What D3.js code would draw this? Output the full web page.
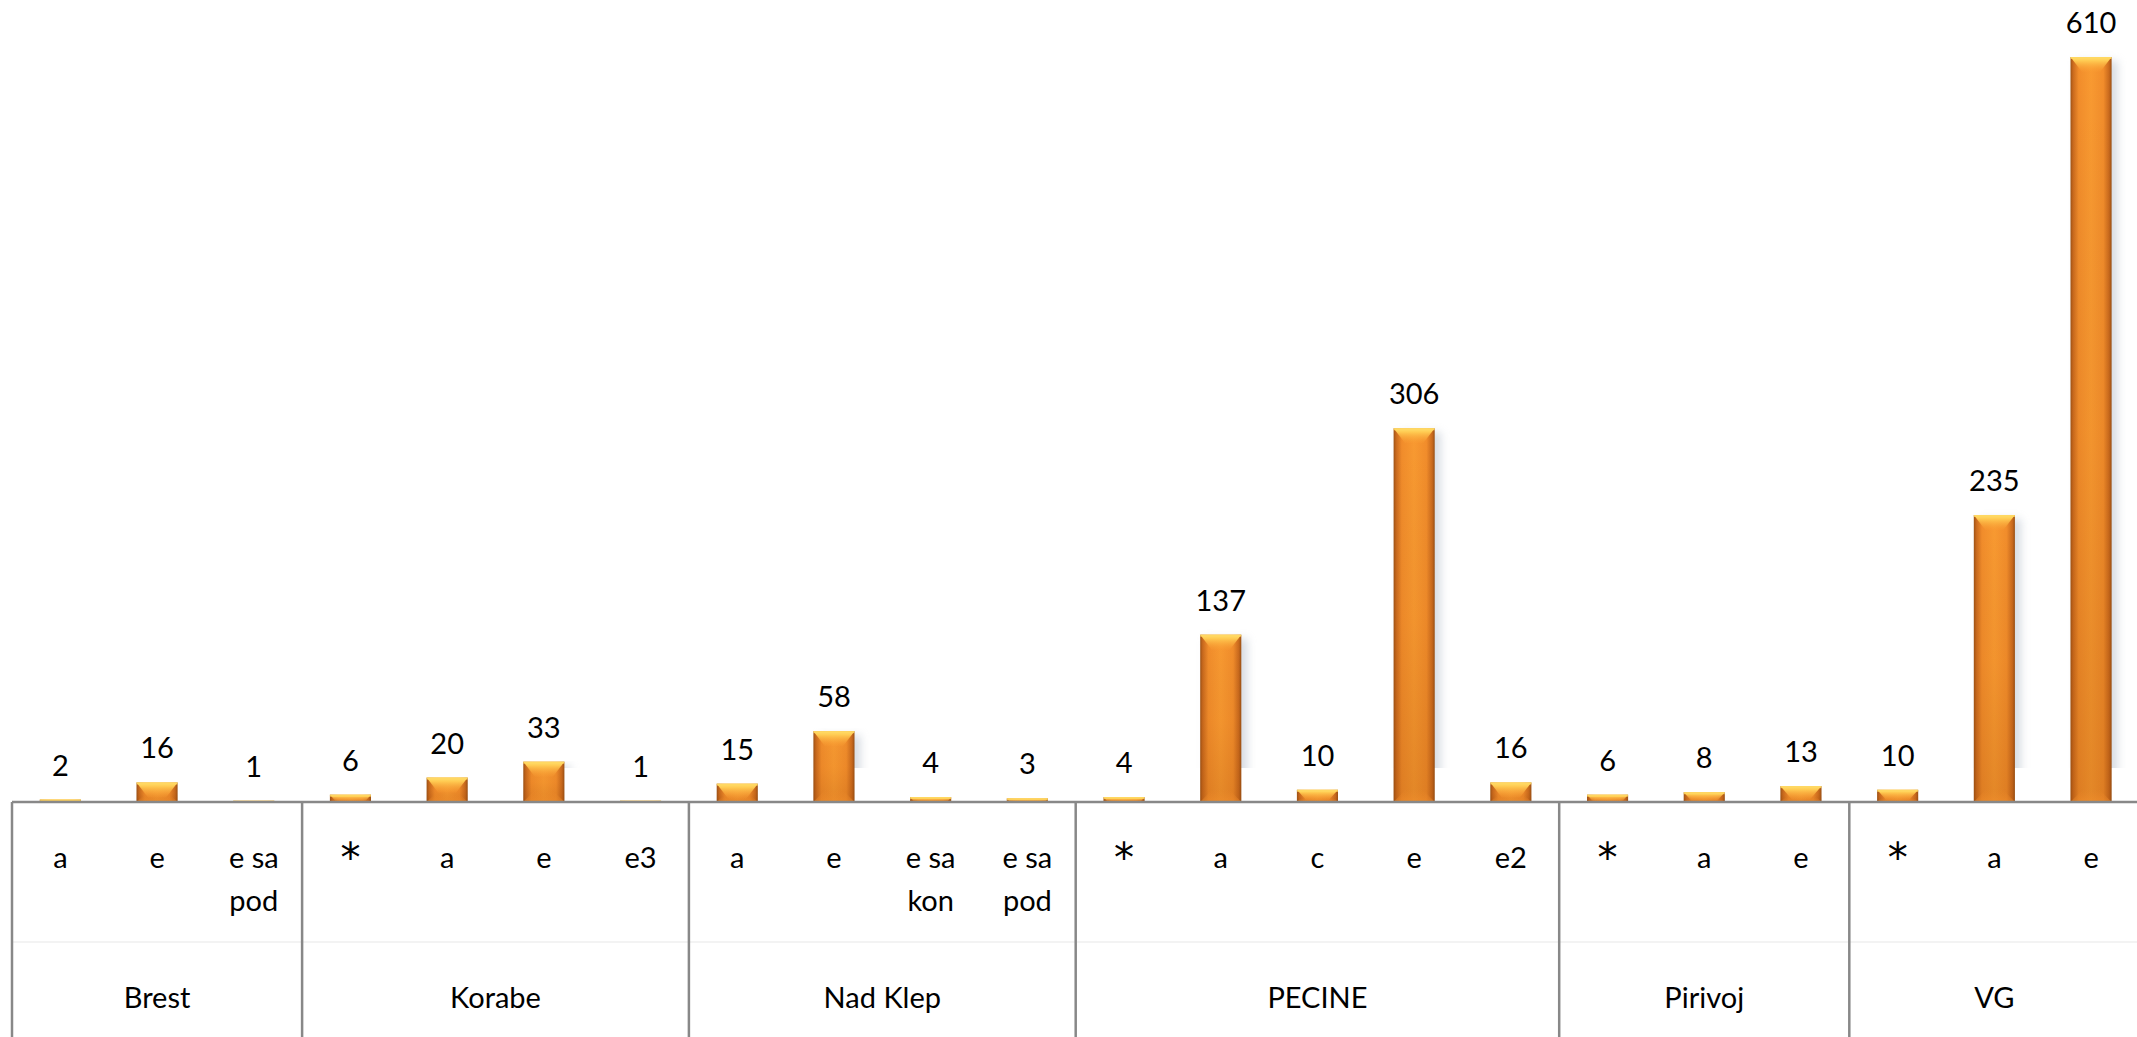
<!DOCTYPE html>
<html>
<head>
<meta charset="utf-8">
<script src="https://cdn.jsdelivr.net/npm/d3@7"></script>
<style>
  html, body { margin: 0; padding: 0; background: #fff; overflow: hidden; }
  svg { display: block; }
  text { font-family: Lato, "Open Sans", sans-serif; fill: #000; }
</style>
</head>
<body>
<svg id="chart" width="2137" height="1037"></svg>
<script>
// ---- data ----
const groups = ["Brest", "Korabe", "Nad Klep", "PECINE", "Pirivoj", "VG"];
const groupSizes = [3, 4, 4, 5, 3, 3];
const subcategories = ["a", "e", "e sa pod", "*", "a", "e", "e3", "a", "e", "e sa kon", "e sa pod",
                       "*", "a", "c", "e", "e2", "*", "a", "e", "*", "a", "e"];
const values = [2, 16, 1, 6, 20, 33, 1, 15, 58, 4, 3, 4, 137, 10, 306, 16, 6, 8, 13, 10, 235, 610];

// ---- layout ----
const W = 2137, H = 1037;
const left = 12, step = 96.7;
const right = left + step * values.length;
const axisY = 802, topY = 57;
const fontSize = 29;

const svg = d3.select("#chart");
const ids = values.map((v, i) => i);

const x = d3.scaleBand().domain(ids).range([left, right]).paddingInner(0.575).paddingOuter(0.2875);
const y = d3.scaleLinear().domain([0, d3.max(values)]).range([axisY, topY]);

// ---- defs ----
const defs = svg.append("defs");
const gH = defs.append("linearGradient").attr("id", "barH").attr("x1", 0).attr("x2", 1).attr("y1", 0).attr("y2", 0);
[[0, "#9E5215"], [0.06, "#C9691D"], [0.2, "#F28D2B"], [0.5, "#F99A31"], [0.8, "#F28D2B"], [0.94, "#C9691D"], [1, "#9A5014"]]
  .forEach(([o, c]) => gH.append("stop").attr("offset", o).attr("stop-color", c));
const gV = defs.append("linearGradient").attr("id", "barV").attr("x1", 0).attr("x2", 0).attr("y1", 0).attr("y2", 1);
[[0, "#000", 0], [0.5, "#8a3c00", 0.06], [1, "#8a3c00", 0.2]]
  .forEach(([o, c, a]) => gV.append("stop").attr("offset", o).attr("stop-color", c).attr("stop-opacity", a));
const gTop = defs.append("linearGradient").attr("id", "bevTop").attr("x1", 0).attr("x2", 0).attr("y1", 0).attr("y2", 1);
[[0, "#FFE070", 1], [0.25, "#FFCB52", 1], [1, "#F99A31", 0.2]]
  .forEach(([o, c, a]) => gTop.append("stop").attr("offset", o).attr("stop-color", c).attr("stop-opacity", a));
const gBot = defs.append("linearGradient").attr("id", "bevBot").attr("x1", 0).attr("x2", 0).attr("y1", 0).attr("y2", 1);
[[0, "#F08A2A", 0], [1, "#F5922E", 0.5]]
  .forEach(([o, c, a]) => gBot.append("stop").attr("offset", o).attr("stop-color", c).attr("stop-opacity", a));
const blur = defs.append("filter").attr("id", "blur").attr("x", "-50%").attr("y", "-10%").attr("width", "200%").attr("height", "120%");
blur.append("feGaussianBlur").attr("stdDeviation", 4);
defs.append("clipPath").attr("id", "shadowClip").append("rect")
  .attr("x", 0).attr("y", 0).attr("width", W).attr("height", axisY - 34);

// ---- faint level separator ----
svg.append("line").attr("x1", left).attr("x2", W).attr("y1", 942).attr("y2", 942)
  .attr("stroke", "#efefef").attr("stroke-width", 1.5);

// ---- bars ----
const bw = x.bandwidth();
const bars = svg.append("g").selectAll("g").data(ids).join("g");

bars.append("rect")
  .attr("clip-path", "url(#shadowClip)")
  .attr("x", i => x(i) + 6).attr("y", i => y(values[i]) + 4)
  .attr("width", bw).attr("height", i => Math.max(0, axisY - y(values[i])))
  .attr("fill", "#b8c0cc").attr("opacity", 0.55).attr("filter", "url(#blur)");

bars.append("rect")
  .attr("x", i => x(i)).attr("y", i => y(values[i]))
  .attr("width", bw).attr("height", i => axisY - y(values[i]))
  .attr("fill", "url(#barH)");
bars.append("rect")
  .attr("x", i => x(i)).attr("y", i => y(values[i]))
  .attr("width", bw).attr("height", i => axisY - y(values[i]))
  .attr("fill", "url(#barV)");

bars.append("path")
  .attr("d", i => {
    const x0 = x(i), x1 = x0 + bw, t = y(values[i]);
    const h = Math.min(15, (axisY - t) * 0.85);
    const ins = Math.min(bw * 0.28, h * 0.9);
    return `M${x0},${t} L${x1},${t} L${x1 - ins},${t + h} L${x0 + ins},${t + h} Z`;
  })
  .attr("fill", "url(#bevTop)");
bars.append("rect")
  .attr("x", i => x(i)).attr("y", i => y(values[i]))
  .attr("width", bw).attr("height", i => Math.min(2, axisY - y(values[i])))
  .attr("fill", "#FFD760").attr("opacity", 0.8);

bars.append("path")
  .attr("d", i => {
    const x0 = x(i), x1 = x0 + bw, t = y(values[i]);
    const h = Math.min(12, (axisY - t) * 0.3);
    const ins = Math.min(bw * 0.28, h);
    return `M${x0 + ins},${axisY - h} L${x1 - ins},${axisY - h} L${x1},${axisY} L${x0},${axisY} Z`;
  })
  .attr("fill", "url(#bevBot)");

// ---- value labels ----
svg.append("g").selectAll("text").data(ids).join("text")
  .attr("x", i => x(i) + bw / 2)
  .attr("y", i => y(values[i]) - 24)
  .attr("text-anchor", "middle")
  .attr("font-size", fontSize)
  .text(i => values[i]);

// ---- axis line ----
svg.append("line").attr("x1", left).attr("x2", W).attr("y1", axisY).attr("y2", axisY)
  .attr("stroke", "#888").attr("stroke-width", 2.5);

// ---- group dividers ----
const bounds = [0];
groupSizes.forEach(s => bounds.push(bounds[bounds.length - 1] + s));
const xEdge = i => left + (right - left) * i / values.length;
svg.append("g").selectAll("line").data(bounds.slice(0, -1)).join("line")
  .attr("x1", b => xEdge(b)).attr("x2", b => xEdge(b))
  .attr("y1", axisY).attr("y2", H)
  .attr("stroke", "#888").attr("stroke-width", 2.5);

// ---- subcategory labels (wrapped) ----
const subG = svg.append("g");
ids.forEach(i => {
  const isStar = subcategories[i] === "*";
  const t = subG.append("text")
    .attr("x", x(i) + bw / 2).attr("y", isStar ? 872 : 868)
    .attr("text-anchor", "middle")
    .attr("font-size", isStar ? 40 : fontSize)
    .style("font-family", isStar ? "'DejaVu Sans', sans-serif" : null);
  const words = subcategories[i].split(" ");
  let line = [];
  let ts = t.append("tspan").attr("x", x(i) + bw / 2).attr("dy", 0);
  words.forEach(w => {
    line.push(w);
    ts.text(line.join(" "));
    if (ts.node().getComputedTextLength() > 68 && line.length > 1) {
      line.pop();
      ts.text(line.join(" "));
      line = [w];
      ts = t.append("tspan").attr("x", x(i) + bw / 2).attr("dy", 43).text(w);
    }
  });
});

// ---- group labels ----
svg.append("g").selectAll("text").data(groups).join("text")
  .attr("x", (g, k) => (xEdge(bounds[k]) + xEdge(bounds[k + 1])) / 2)
  .attr("y", 1008)
  .attr("text-anchor", "middle").attr("font-size", fontSize)
  .text(g => g);
</script>
</body>
</html>
